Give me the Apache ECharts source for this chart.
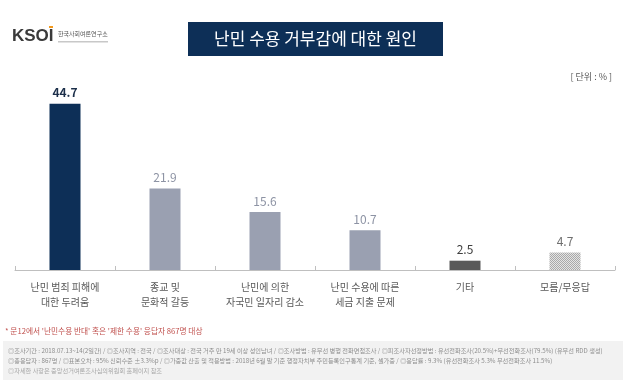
<!DOCTYPE html>
<html><head><meta charset="utf-8">
<script src="https://cdn.jsdelivr.net/npm/echarts@6/dist/echarts.min.js"></script>
<style>html,body{margin:0;padding:0;background:#fff}#c{width:630px;height:386px}</style>
</head><body><div id="c"></div>
<script>
const categories = ['난민 범죄 피해에\n대한 두려움', '종교 및\n문화적 갈등', '난민에 의한\n자국민 일자리 감소', '난민 수용에 따른\n세금 지출 문제', '기타', '모름/무응답'];
const values = [44.7, 21.9, 15.6, 10.7, 2.5, 4.7];
const barColors = ['#0d2f57', '#9aa0b1', '#9aa0b1', '#9aa0b1', '#595959', null];
const labelColors = ['#1c2f4a', '#8d93a4', '#8d93a4', '#8d93a4', '#3f3f3f', '#6f6f6f'];
const labelWeights = ['bold', 'normal', 'normal', 'normal', 'normal', 'normal'];

const FONT = '"Noto Sans CJK KR", "Noto Sans", sans-serif';

// dotted pattern for last bar
const pc = document.createElement('canvas');
pc.width = 2; pc.height = 2;
const pctx = pc.getContext('2d');
pctx.fillStyle = '#e4e4e4'; pctx.fillRect(0, 0, 2, 2);
pctx.fillStyle = '#a9a9a9'; pctx.fillRect(0, 0, 1, 1); pctx.fillRect(1, 1, 1, 1);

const chart = echarts.init(document.getElementById('c'), null, {renderer: 'canvas'});
const data = values.map((v, i) => ({
  value: v,
  itemStyle: {color: barColors[i] ? barColors[i] : {image: pc, repeat: 'repeat'}},
  label: {color: labelColors[i], fontWeight: labelWeights[i]}
}));

const footLines = [
  '◎조사기간 : 2018.07.13~14(2일간) / ◎조사지역 : 전국 / ◎조사대상 : 전국 거주 만 19세 이상 성인남녀 / ◎조사방법 : 유무선 병행 전화면접조사 / ◎피조사자선정방법 : 유선전화조사(20.5%)+무선전화조사(79.5%) (유무선 RDD 생성)',
  '◎총응답자 : 867명 / ◎표본오차 : 95% 신뢰수준 ±3.3%p / ◎가중값 산출 및 적용방법 : 2018년 6월 말 기준 행정자치부 주민등록인구통계 기준, 셀가중 / ◎응답률 : 9.3% (유선전화조사 5.3% 무선전화조사 11.5%)',
  '◎자세한 사항은 중앙선거여론조사심의위원회 홈페이지 참조'
];

chart.setOption({
  animation: false,
  backgroundColor: '#ffffff',
  grid: {left: 15, right: 15, top: 84, bottom: 116, containLabel: false},
  xAxis: {
    type: 'category',
    data: categories,
    axisLine: {lineStyle: {color: '#bfbfbf', width: 1}},
    axisTick: {show: true, inside: true, length: 4, lineStyle: {color: '#bfbfbf'}},
    axisLabel: {color: '#595959', fontSize: 10, lineHeight: 15, margin: 10, fontFamily: FONT, interval: 0}
  },
  yAxis: {
    type: 'value', min: 0, max: 50, show: false,
    splitLine: {show: false}
  },
  series: [{
    type: 'bar',
    data: data,
    barWidth: 31,
    label: {show: true, position: 'top', distance: 5, fontSize: 12, fontFamily: FONT}
  }],
  graphic: [
    // logo
    {type: 'text', left: 12, top: 28, style: {text: 'KSOI', font: 'bold 17px "Liberation Sans", Arial, sans-serif', fill: '#3a3a3a'}},
    {type: 'rect', shape: {x: 49, y: 26, width: 4, height: 2}, style: {fill: '#f39a1e'}},
    {type: 'text', left: 58, top: 31, style: {text: '한국사회여론연구소', font: '6px ' + FONT, fill: '#555'}},
    {type: 'rect', shape: {x: 58, y: 41, width: 50, height: 1.5}, style: {fill: '#c8c8c8'}},
    // title box
    {type: 'rect', shape: {x: 188, y: 22, width: 255, height: 34}, style: {fill: '#0d2f57'}},
    {type: 'text', x: 315.5, y: 39, style: {text: '난민 수용 거부감에 대한 원인', font: '17px ' + FONT, fill: '#ffffff', textAlign: 'center', textVerticalAlign: 'middle'}},
    // unit
    {type: 'text', x: 612, y: 77, style: {text: '[ 단위 : % ]', font: '9px ' + FONT, fill: '#595959', textAlign: 'right', textVerticalAlign: 'middle'}},
    // footnote
    {type: 'text', x: 5, y: 331, style: {text: '* 문12에서 \'난민수용 반대\' 혹은 \'제한 수용\' 응답자 867명 대상', font: '7.7px ' + FONT, fill: '#c0504d', textVerticalAlign: 'middle'}},
    {type: 'rect', shape: {x: 3, y: 341, width: 620, height: 39}, style: {fill: '#f2f2f2'}},
    {type: 'text', x: 8, y: 351, style: {text: footLines[0], font: '6.2px ' + FONT, fill: '#8c8c8c', textVerticalAlign: 'middle'}},
    {type: 'text', x: 8, y: 361, style: {text: footLines[1], font: '6.2px ' + FONT, fill: '#8c8c8c', textVerticalAlign: 'middle'}},
    {type: 'text', x: 8, y: 371, style: {text: footLines[2], font: '6.2px ' + FONT, fill: '#a6a6a6', textVerticalAlign: 'middle'}}
  ]
});
</script></body></html>
